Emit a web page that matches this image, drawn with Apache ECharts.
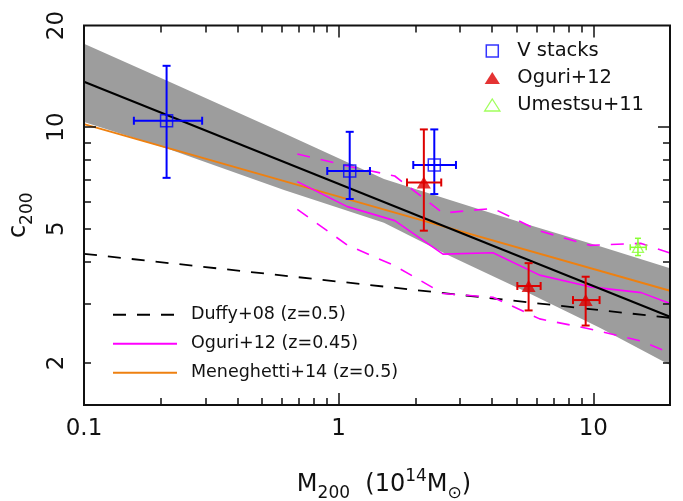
<!DOCTYPE html>
<html>
<head>
<meta charset="utf-8">
<title>Concentration–mass relation</title>
<script src="https://cdn.jsdelivr.net/npm/echarts@6/dist/echarts.min.js"></script>
<style>
  html, body { margin: 0; padding: 0; background: #ffffff; }
  #chart { width: 683px; height: 501px; }
</style>
</head>
<body>
<div id="chart"></div>
<script>
// ---------------- axes ----------------
const xLabelValues = [0.1, 1, 10];
const xMajorTicks = [1, 10];
const xMinorTicks = [0.2, 0.3, 0.4, 0.5, 0.6, 0.7, 0.8, 0.9, 2, 3, 4, 5, 6, 7, 8, 9];
const yLabelValues = [2, 5, 10, 20];
const yMajorTicks = [10];
const yMinorTicks = [2, 3, 4, 5, 6, 7, 8, 9];

// ---------------- measurements: M200 [1e14 Msun], c200 ----------------
// V stacks
const vStacksM   = [0.211, 1.105, 2.374];
const vStacksMLo = [0.157, 0.902, 1.963];
const vStacksMHi = [0.291, 1.327, 2.888];
const vStacksC   = [10.44, 7.41, 7.72];
const vStacksCLo = [7.07, 6.12, 6.33];
const vStacksCHi = [15.19, 9.68, 9.84];

// Oguri+12 stacked clusters
const oguriM   = [2.16, 5.57, 9.33];
const oguriMLo = [1.855, 5.03, 8.32];
const oguriMHi = [2.528, 6.21, 10.58];
const oguriC   = [6.85, 3.38, 3.07];
const oguriCLo = [4.93, 2.86, 2.58];
const oguriCHi = [9.84, 3.95, 3.60];

// Umetsu+11
const umetsuM   = [14.97];
const umetsuMLo = [13.96];
const umetsuMHi = [16.13];
const umetsuC   = [4.40];
const umetsuCLo = [4.16];
const umetsuCHi = [4.68];

// ---------------- fit and models ----------------
const fitM = [0.1, 20];
const fitC = [13.62, 2.74];

const bandM     = [0.1, 0.212, 0.61, 1.506, 2.735, 5.44, 10.6, 20];
const bandUpper = [17.67, 13.71, 9.58, 7.01, 6.08, 5.16, 4.43, 3.815];
const bandLower = [10.35, 8.64, 6.51, 5.20, 4.15, 3.25, 2.54, 1.97];

const duffyM = [0.1, 20];
const duffyC = [4.21, 2.72];

const meneghettiM = [0.1, 1.5, 20];
const meneghettiC = [10.2, 5.70, 3.27];

const oguriModelM      = [0.688, 1.081, 1.66, 2.568, 4.035, 6.155, 9.70, 15.42, 20];
const oguriModelMedian = [6.89, 5.81, 5.28, 4.20, 4.24, 3.64, 3.36, 3.23, 3.00];
const oguriModelHigh   = [8.32, 7.67, 7.16, 5.56, 5.74, 4.92, 4.46, 4.52, 4.23];
const oguriModelLow    = [5.70, 4.47, 3.88, 3.21, 3.13, 2.70, 2.52, 2.32, 2.14];

// ---------------- styling ----------------
const FONT = '"DejaVu Sans", sans-serif';
const INK = '#111111';
const BLUE = '#0000ff';
const RED = '#dd0000';
const GREEN = '#88ff33';
const MAGENTA = '#ff00ff';
const ORANGE = '#ee8010';
const BAND = '#9d9d9d';
const DASH = [13, 11];

const X_MIN = 0.1, X_MAX = 20, Y_MIN = 1.5, Y_MAX = 20;

const zip = (xs, ys) => xs.map((x, i) => [x, ys[i]]);
const fmt = v => String(+Number(v).toPrecision(3));

const titleRich = {
  m:   { fontFamily: FONT, fontSize: 24, lineHeight: 34, color: INK },
  sub: { fontFamily: FONT, fontSize: 17, lineHeight: 14, verticalAlign: 'bottom', color: INK },
  sup: { fontFamily: FONT, fontSize: 17, lineHeight: 14, verticalAlign: 'top', color: INK }
};

function xAxisDef(position, ticks, tickLen, withLabels) {
  const ax = {
    type: 'log', logBase: 10, min: X_MIN, max: X_MAX, position: position, z: 11,
    axisLine: { show: false },
    splitLine: { show: false },
    axisTick: { show: true, inside: true, length: tickLen, customValues: ticks,
                lineStyle: { color: INK, width: 1.5 } },
    axisLabel: { show: false }
  };
  if (withLabels) {
    ax.axisLabel = { show: true, customValues: xLabelValues, margin: 13,
                     fontFamily: FONT, fontSize: 23, color: INK, formatter: fmt };
    ax.name = '{m|M}{sub|200}{m|  (10}{sup|14}{m|M}{sub|\u2299}{m|)}';
    ax.nameLocation = 'middle';
    ax.nameGap = 63;
    ax.nameTextStyle = { rich: titleRich, padding: [0, 0, 0, 14] };
  }
  return ax;
}

function yAxisDef(position, ticks, tickLen, withLabels) {
  const ax = {
    type: 'log', logBase: 10, min: Y_MIN, max: Y_MAX, position: position, z: 11,
    axisLine: { show: false },
    splitLine: { show: false },
    axisTick: { show: true, inside: true, length: tickLen, customValues: ticks,
                lineStyle: { color: INK, width: 1.5 } },
    axisLabel: { show: false }
  };
  if (withLabels) {
    ax.axisLabel = { show: true, customValues: yLabelValues, margin: 15, rotate: 90,
                     fontFamily: FONT, fontSize: 23, color: INK, formatter: fmt };
    ax.name = '{m|c}{sub|200}';
    ax.nameLocation = 'middle';
    ax.nameGap = 48;
    ax.nameTextStyle = { rich: titleRich };
  }
  return ax;
}

// error bars: item = [m, c, mLo, mHi, cLo, cHi]
function errorBarRenderer(color, width, cap) {
  return function (params, api) {
    const m = api.value(0), c = api.value(1);
    const left = api.coord([api.value(2), c]);
    const right = api.coord([api.value(3), c]);
    const low = api.coord([m, api.value(4)]);
    const high = api.coord([m, api.value(5)]);
    const style = { stroke: color, lineWidth: width, fill: null };
    const seg = (x1, y1, x2, y2) => ({ type: 'line', shape: { x1, y1, x2, y2 }, style });
    return {
      type: 'group',
      children: [
        seg(left[0], left[1], right[0], right[1]),
        seg(left[0], left[1] - cap, left[0], left[1] + cap),
        seg(right[0], right[1] - cap, right[0], right[1] + cap),
        seg(low[0], low[1], high[0], high[1]),
        seg(low[0] - cap, low[1], low[0] + cap, low[1]),
        seg(high[0] - cap, high[1], high[0] + cap, high[1])
      ]
    };
  };
}

function errorItems(m, mLo, mHi, c, cLo, cHi) {
  return m.map((v, i) => [v, c[i], mLo[i], mHi[i], cLo[i], cHi[i]]);
}

// shaded uncertainty region of the fit
function bandRenderer(params, api) {
  if (params.dataIndex !== 0) return null;
  const pts = [];
  for (let i = 0; i < bandM.length; i++) pts.push(api.coord([bandM[i], bandUpper[i]]));
  for (let i = bandM.length - 1; i >= 0; i--) pts.push(api.coord([bandM[i], bandLower[i]]));
  return { type: 'polygon', shape: { points: pts }, style: { fill: BAND, stroke: null } };
}

const lineBase = { type: 'line', symbol: 'none', showSymbol: false, silent: true,
                   xAxisIndex: 0, yAxisIndex: 0 };

const SQUARE_ICON = 'path://M0,0L12,0L12,12L0,12Z';
const TRIANGLE_ICON = 'path://M7,0L14,11L0,11Z';

const option = {
  animation: false,
  backgroundColor: '#ffffff',
  textStyle: { fontFamily: FONT },
  grid: { left: 84, right: 13, top: 25.5, bottom: 96, show: true, z: 10,
          outerBoundsMode: 'none', containLabel: false,
          borderColor: INK, borderWidth: 2, backgroundColor: 'rgba(0,0,0,0)' },
  xAxis: [
    xAxisDef('bottom', xMajorTicks, 12, true),
    xAxisDef('bottom', xMinorTicks, 7, false),
    xAxisDef('top', xMajorTicks, 12, false),
    xAxisDef('top', xMinorTicks, 7, false)
  ],
  yAxis: [
    yAxisDef('left', yMajorTicks, 12, true),
    yAxisDef('left', yMinorTicks, 7, false),
    yAxisDef('right', yMajorTicks, 12, false),
    yAxisDef('right', yMinorTicks, 7, false)
  ],
  legend: [
    {
      orient: 'vertical', left: 484, top: 41, padding: 0,
      itemWidth: 40, itemHeight: 12, itemGap: 7, selectedMode: false,
      textStyle: { fontFamily: FONT, fontSize: 19.5, color: INK, lineHeight: 12 },
      data: [
        { name: 'V stacks', icon: SQUARE_ICON,
          itemStyle: { color: 'rgba(0,0,0,0)', borderColor: BLUE, borderWidth: 1.5 } },
        { name: 'Oguri+12', icon: TRIANGLE_ICON, itemStyle: { color: RED } },
        { name: 'Umestsu+11', icon: TRIANGLE_ICON,
          itemStyle: { color: 'rgba(0,0,0,0)', borderColor: GREEN, borderWidth: 1.3 } }
      ]
    },
    {
      orient: 'vertical', left: 112, top: 305.7, padding: 0,
      itemWidth: 64, itemHeight: 14, itemGap: 11, selectedMode: false,
      itemStyle: { opacity: 0 },
      textStyle: { fontFamily: FONT, fontSize: 17.5, color: INK, lineHeight: 14,
                   padding: [0, 0, 0, 9] },
      data: ['Duffy+08 (z=0.5)', 'Oguri+12 (z=0.45)', 'Meneghetti+14 (z=0.5)']
    }
  ],
  series: [
    {
      name: 'Fit uncertainty', type: 'custom', silent: true, z: 1,
      xAxisIndex: 0, yAxisIndex: 0,
      renderItem: bandRenderer,
      encode: { x: 0, y: [1, 2] },
      data: bandM.map((m, i) => [m, bandUpper[i], bandLower[i]])
    },
    Object.assign({}, lineBase, {
      name: 'Duffy+08 (z=0.5)', z: 2,
      lineStyle: { color: '#000000', width: 1.8, type: DASH },
      itemStyle: { color: '#000000' },
      data: zip(duffyM, duffyC)
    }),
    Object.assign({}, lineBase, {
      name: 'Oguri+12 upper', z: 2,
      lineStyle: { color: MAGENTA, width: 1.6, type: DASH },
      data: zip(oguriModelM, oguriModelHigh)
    }),
    Object.assign({}, lineBase, {
      name: 'Oguri+12 lower', z: 2,
      lineStyle: { color: MAGENTA, width: 1.6, type: DASH },
      data: zip(oguriModelM, oguriModelLow)
    }),
    Object.assign({}, lineBase, {
      name: 'Meneghetti+14 (z=0.5)', z: 2,
      lineStyle: { color: ORANGE, width: 2 },
      itemStyle: { color: ORANGE },
      data: zip(meneghettiM, meneghettiC)
    }),
    Object.assign({}, lineBase, {
      name: 'Oguri+12 (z=0.45)', z: 2,
      lineStyle: { color: MAGENTA, width: 1.6 },
      itemStyle: { color: MAGENTA },
      data: zip(oguriModelM, oguriModelMedian)
    }),
    Object.assign({}, lineBase, {
      name: 'Best fit', z: 2,
      lineStyle: { color: '#000000', width: 2 },
      data: zip(fitM, fitC)
    }),
    {
      name: 'V stacks errors', type: 'custom', silent: true, z: 3,
      xAxisIndex: 0, yAxisIndex: 0, encode: { x: 0, y: 1 },
      renderItem: errorBarRenderer(BLUE, 2, 4),
      data: errorItems(vStacksM, vStacksMLo, vStacksMHi, vStacksC, vStacksCLo, vStacksCHi)
    },
    {
      name: 'Oguri+12 errors', type: 'custom', silent: true, z: 3,
      xAxisIndex: 0, yAxisIndex: 0, encode: { x: 0, y: 1 },
      renderItem: errorBarRenderer(RED, 2, 4),
      data: errorItems(oguriM, oguriMLo, oguriMHi, oguriC, oguriCLo, oguriCHi)
    },
    {
      name: 'Umestsu+11 errors', type: 'custom', silent: true, z: 3,
      xAxisIndex: 0, yAxisIndex: 0, encode: { x: 0, y: 1 },
      renderItem: errorBarRenderer(GREEN, 1.5, 3),
      data: errorItems(umetsuM, umetsuMLo, umetsuMHi, umetsuC, umetsuCLo, umetsuCHi)
    },
    {
      name: 'V stacks', type: 'scatter', z: 4, silent: true,
      xAxisIndex: 0, yAxisIndex: 0,
      symbol: 'rect', symbolSize: 12,
      itemStyle: { color: 'rgba(0,0,0,0)', borderColor: BLUE, borderWidth: 1.5 },
      data: zip(vStacksM, vStacksC)
    },
    {
      name: 'Oguri+12', type: 'scatter', z: 4, silent: true,
      xAxisIndex: 0, yAxisIndex: 0,
      symbol: 'triangle', symbolSize: [14, 12],
      itemStyle: { color: RED },
      data: zip(oguriM, oguriC)
    },
    {
      name: 'Umestsu+11', type: 'scatter', z: 4, silent: true,
      xAxisIndex: 0, yAxisIndex: 0,
      symbol: 'triangle', symbolSize: [11, 10],
      itemStyle: { color: 'rgba(0,0,0,0)', borderColor: GREEN, borderWidth: 1.3 },
      data: zip(umetsuM, umetsuC)
    }
  ]
};

const chart = echarts.init(document.getElementById('chart'), null, { renderer: 'canvas' });
chart.setOption(option);
</script>
</body>
</html>
